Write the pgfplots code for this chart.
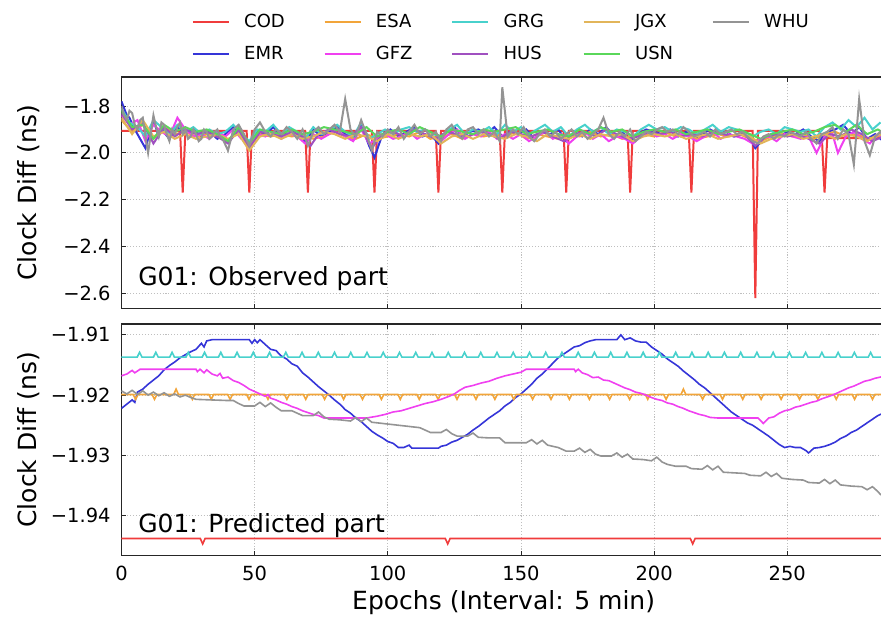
\documentclass[border=0pt]{standalone}
\usepackage{fontspec}
\setmainfont{DejaVu Sans}
\usepackage{pgfplots}
\pgfplotsset{compat=1.18}

\definecolor{cCOD}{HTML}{F03C3C}
\definecolor{cEMR}{HTML}{3535D8}
\definecolor{cESA}{HTML}{F2A53A}
\definecolor{cGFZ}{HTML}{F040F0}
\definecolor{cGRG}{HTML}{48D1CC}
\definecolor{cHUS}{HTML}{A050C0}
\definecolor{cJGX}{HTML}{E2B55A}
\definecolor{cUSN}{HTML}{5AD75A}
\definecolor{cWHU}{HTML}{949494}

\newcommand\tickfont{\fontsize{14.6}{17}\selectfont}
\newcommand\labfont{\fontsize{18.75}{22}\selectfont}
\newcommand\legfont{\fontsize{13.5}{16}\selectfont}

\pgfplotsset{
  panel/.style={
    scale only axis, width=573.2pt, height=173.5pt,
    xmin=0, xmax=287,
    xtick={0,50,100,150,200,250},
    tick align=inside, major tick length=3.5pt,
    grid=major,
    major grid style={draw=black!25, line width=0.6pt, dash pattern=on 0.8pt off 1.4pt},
    axis line style={draw=black!85, line width=0.8pt},
    tick style={draw=black!85, line width=0.6pt},
    tick label style={font=\tickfont},
    yticklabel style={inner sep=0pt, anchor=east, xshift=-8pt},
    xticklabel style={inner sep=0pt, anchor=north, yshift=-7.5pt},
    every axis y label/.style={at={(axis description cs:-0.121,0.5)}, rotate=90, anchor=center, font=\labfont},
    every axis x label/.style={at={(axis description cs:0.5,-0.2348)}, anchor=base, font=\labfont},
  },
}

\begin{document}
\begin{tikzpicture}
% ---------------- observed part ----------------
\begin{axis}[panel,
  at={(0pt,0pt)}, anchor=north west,
  ymin=-2.664, ymax=-1.676,
  ytick={-2.6,-2.4,-2.2,-2.0,-1.8},
  yticklabels={−2.6,−2.4,−2.2,−2.0,−1.8},
  xticklabels={},
  ylabel={Clock Diff (ns)},
  every axis plot/.append style={line width=1.5pt},
  legend columns=2, transpose legend,
  legend style={draw=none, fill=none, inner sep=0pt, font=\legfont,
    at={(axis description cs:0.0917,1.2745)}, anchor=north west,
    nodes={inner sep=0pt, anchor=base west},
    row sep=12.5pt,
    /tikz/every odd column/.append style={column sep=10.8pt},
    /tikz/every even column/.append style={column sep=29pt}},
  legend image code/.code={\draw[#1, line width=1.5pt] (0pt,0.36em) -- (27pt,0.36em);},
]
\addplot[cCOD] coordinates {(0,-1.906)(22,-1.906)(23,-2.17)(24,-1.906)(47,-1.906)(48,-2.17)(49,-1.906)
 (69,-1.906)(70,-2.17)(71,-1.906)(94,-1.906)(95,-2.17)(96,-1.906)(118,-1.906)(119,-2.17)(120,-1.906)
 (142,-1.906)(143,-2.17)(144,-1.906)(166,-1.906)(167,-2.17)(168,-1.906)(190,-1.906)(191,-2.17)(192,-1.906)
 (213,-1.906)(214,-2.17)(215,-1.906)(237,-1.906)(238,-2.62)(239,-1.906)(262,-1.906)(263,-1.937)(264,-2.17)(265,-1.937)(287,-1.937)};
\addplot[cEMR] coordinates {(0,-1.78)(2,-1.84)(3,-1.85)(5,-1.90)(6,-1.92)(8,-1.96)(9,-1.98)(11,-1.90)(12,-1.86)(14,-1.93)(15,-1.90)(18,-1.94)(21,-1.89)(24,-1.92)(27,-1.90)
 (30,-1.93)(33,-1.91)(36,-1.94)(39,-1.92)(42,-1.89)(45,-1.93)(48,-1.98)(51,-1.91)(54,-1.92)(57,-1.89)
 (60,-1.93)(63,-1.90)(66,-1.92)(69,-1.95)(72,-1.90)(75,-1.93)(78,-1.91)(81,-1.89)(84,-1.92)(87,-1.94)
 (90,-1.88)(93,-1.97)(95,-2.02)(98,-1.92)(101,-1.90)(104,-1.93)(107,-1.91)(110,-1.89)(113,-1.93)(116,-1.92)
 (119,-1.96)(122,-1.91)(125,-1.89)(128,-1.93)(131,-1.91)(134,-1.90)(137,-1.92)(140,-1.89)(143,-1.93)(146,-1.91)
 (149,-1.92)(152,-1.90)(155,-1.94)(158,-1.91)(161,-1.92)(164,-1.90)(167,-1.95)(170,-1.91)(173,-1.93)(176,-1.90)
 (179,-1.92)(182,-1.89)(185,-1.93)(188,-1.91)(191,-1.95)(194,-1.92)(197,-1.90)(200,-1.91)(203,-1.92)(206,-1.90)
 (209,-1.93)(212,-1.91)(215,-1.94)(218,-1.92)(221,-1.90)(224,-1.92)(227,-1.91)(230,-1.93)(233,-1.92)(236,-1.94)
 (238,-1.98)(241,-1.94)(244,-1.92)(247,-1.93)(250,-1.91)(253,-1.92)(256,-1.90)(259,-1.93)(262,-1.95)(265,-1.91)
 (268,-1.90)(271,-1.88)(274,-1.92)(277,-1.89)(280,-1.94)(283,-1.92)(286,-1.95)};
\addplot[cESA] coordinates {(0,-1.86)(4,-1.91)(8,-1.88)(12,-1.94)(16,-1.89)(20,-1.92)(24,-1.91)(28,-1.93)(32,-1.92)(36,-1.93)
 (40,-1.95)(44,-1.91)(48,-1.97)(52,-1.92)(56,-1.93)(60,-1.92)(64,-1.93)(68,-1.92)(72,-1.94)(76,-1.93)
 (80,-1.91)(84,-1.93)(88,-1.94)(92,-1.92)(96,-1.94)(100,-1.93)(104,-1.92)(108,-1.93)(112,-1.91)(116,-1.94)
 (120,-1.93)(124,-1.92)(128,-1.94)(132,-1.92)(136,-1.93)(140,-1.92)(144,-1.93)(148,-1.91)(152,-1.94)(156,-1.92)
 (160,-1.93)(164,-1.94)(168,-1.92)(172,-1.93)(176,-1.91)(180,-1.93)(184,-1.92)(188,-1.94)(192,-1.93)(196,-1.92)
 (200,-1.93)(204,-1.91)(208,-1.93)(212,-1.92)(216,-1.94)(220,-1.93)(224,-1.92)(228,-1.93)(232,-1.92)(236,-1.94)
 (240,-1.95)(244,-1.93)(248,-1.92)(252,-1.93)(256,-1.92)(260,-1.94)(264,-1.92)(268,-1.91)(272,-1.93)(276,-1.92)
 (280,-1.94)(284,-1.93)(287,-1.92)};
\addplot[cGFZ] coordinates {(0,-1.84)(3,-1.88)(6,-1.86)(9,-1.95)(12,-1.88)(15,-1.91)(18,-1.93)(21,-1.85)(24,-1.90)(27,-1.93)
 (30,-1.92)(33,-1.94)(36,-1.91)(39,-1.93)(42,-1.90)(45,-1.94)(48,-1.96)(51,-1.92)(54,-1.93)(57,-1.91)
 (60,-1.94)(63,-1.92)(66,-1.93)(69,-1.96)(72,-1.92)(75,-1.94)(78,-1.92)(81,-1.90)(84,-1.93)(87,-1.95)
 (90,-1.90)(93,-1.96)(96,-1.94)(99,-1.92)(102,-1.94)(105,-1.93)(108,-1.91)(111,-1.94)(114,-1.92)(117,-1.93)
 (120,-1.95)(123,-1.92)(126,-1.90)(129,-1.94)(132,-1.92)(135,-1.93)(138,-1.91)(141,-1.94)(144,-1.92)(147,-1.94)
 (150,-1.92)(153,-1.95)(156,-1.93)(159,-1.91)(162,-1.94)(165,-1.92)(168,-1.96)(171,-1.93)(174,-1.91)(177,-1.94)
 (180,-1.92)(183,-1.95)(186,-1.93)(189,-1.94)(192,-1.96)(195,-1.93)(198,-1.91)(201,-1.93)(204,-1.92)(207,-1.94)
 (210,-1.92)(213,-1.93)(216,-1.95)(219,-1.93)(222,-1.91)(225,-1.94)(228,-1.92)(231,-1.93)(234,-1.94)(237,-1.96)
 (240,-1.94)(243,-1.93)(246,-1.95)(249,-1.92)(252,-1.93)(255,-1.94)(258,-1.93)(261,-2.00)(264,-1.93)(267,-1.92)
 (269,-2.00)(272,-1.93)(275,-1.91)(278,-1.94)(281,-1.96)(284,-1.92)(287,-1.94)};
\addplot[cGRG] coordinates {(0,-1.81)(3,-1.87)(6,-1.89)(9,-1.93)(12,-1.86)(15,-1.89)(18,-1.92)(21,-1.88)(24,-1.91)(27,-1.89)
 (30,-1.92)(33,-1.90)(36,-1.92)(39,-1.91)(42,-1.88)(45,-1.92)(48,-1.95)(51,-1.90)(54,-1.91)(57,-1.88)
 (60,-1.92)(63,-1.89)(66,-1.91)(69,-1.94)(72,-1.89)(75,-1.92)(78,-1.90)(81,-1.88)(84,-1.91)(87,-1.93)
 (90,-1.87)(93,-1.94)(96,-1.92)(99,-1.90)(102,-1.92)(105,-1.90)(108,-1.89)(111,-1.91)(114,-1.90)(117,-1.92)
 (120,-1.93)(123,-1.90)(126,-1.88)(129,-1.92)(132,-1.90)(135,-1.91)(138,-1.89)(141,-1.92)(144,-1.88)(147,-1.91)
 (150,-1.89)(153,-1.92)(156,-1.90)(159,-1.88)(162,-1.91)(165,-1.89)(168,-1.93)(171,-1.90)(174,-1.88)(177,-1.91)
 (180,-1.89)(183,-1.92)(186,-1.90)(189,-1.91)(192,-1.93)(195,-1.90)(198,-1.88)(201,-1.90)(204,-1.89)(207,-1.91)
 (210,-1.89)(213,-1.90)(216,-1.92)(219,-1.90)(222,-1.88)(225,-1.91)(228,-1.89)(231,-1.90)(234,-1.91)(237,-1.93)
 (240,-1.91)(243,-1.90)(246,-1.92)(249,-1.89)(252,-1.90)(255,-1.91)(258,-1.90)(261,-1.93)(264,-1.89)(267,-1.87)
 (270,-1.90)(273,-1.86)(276,-1.89)(279,-1.85)(282,-1.90)(285,-1.87)};
\addplot[cHUS] coordinates {(0,-1.83)(4,-1.90)(8,-1.87)(12,-1.96)(16,-1.89)(20,-1.93)(24,-1.90)(28,-1.92)(32,-1.91)(36,-1.93)
 (40,-1.96)(44,-1.90)(48,-1.98)(52,-1.91)(56,-1.92)(60,-1.93)(64,-1.91)(68,-1.93)(71,-1.97)(74,-1.92)
 (78,-1.90)(82,-1.92)(86,-1.93)(90,-1.89)(94,-1.98)(98,-1.92)(102,-1.91)(106,-1.93)(110,-1.90)(114,-1.92)
 (118,-1.94)(122,-1.91)(126,-1.92)(130,-1.93)(134,-1.91)(138,-1.92)(142,-1.94)(146,-1.91)(150,-1.92)(154,-1.93)
 (158,-1.91)(162,-1.93)(166,-1.95)(170,-1.92)(174,-1.91)(178,-1.93)(182,-1.90)(186,-1.92)(190,-1.94)(194,-1.93)
 (198,-1.91)(202,-1.92)(206,-1.91)(210,-1.93)(214,-1.92)(218,-1.93)(222,-1.91)(226,-1.92)(230,-1.93)(234,-1.92)
 (238,-1.97)(242,-1.93)(246,-1.92)(250,-1.93)(254,-1.92)(258,-1.94)(262,-1.96)(266,-1.92)(270,-1.93)(274,-1.90)
 (278,-1.92)(282,-1.95)(286,-1.93)};
\addplot[cJGX] coordinates {(0,-1.85)(4,-1.92)(8,-1.86)(12,-1.93)(16,-1.91)(20,-1.94)(24,-1.92)(28,-1.94)(32,-1.93)(36,-1.92)
 (40,-1.94)(44,-1.92)(48,-1.99)(52,-1.93)(56,-1.92)(60,-1.94)(64,-1.92)(68,-1.94)(72,-1.93)(76,-1.91)
 (80,-1.92)(84,-1.94)(88,-1.92)(92,-1.93)(96,-1.95)(100,-1.92)(104,-1.94)(108,-1.92)(112,-1.93)(116,-1.92)
 (120,-1.96)(124,-1.93)(128,-1.92)(132,-1.94)(136,-1.92)(140,-1.93)(144,-1.94)(148,-1.92)(152,-1.93)(156,-1.95)
 (160,-1.92)(164,-1.93)(168,-1.94)(172,-1.92)(176,-1.94)(180,-1.92)(184,-1.93)(188,-1.92)(192,-1.95)(196,-1.93)
 (200,-1.92)(204,-1.93)(208,-1.92)(212,-1.94)(216,-1.93)(220,-1.92)(224,-1.94)(228,-1.93)(232,-1.92)(236,-1.93)
 (240,-1.96)(244,-1.94)(248,-1.93)(252,-1.92)(256,-1.94)(260,-1.93)(264,-1.92)(268,-1.94)(272,-1.92)(276,-1.93)
 (280,-1.95)(284,-1.92)(287,-1.93)};
\addplot[cUSN] coordinates {(0,-1.82)(4,-1.89)(8,-1.88)(12,-1.94)(16,-1.88)(20,-1.91)(24,-1.89)(28,-1.91)(32,-1.90)(36,-1.92)
 (40,-1.95)(44,-1.89)(48,-1.96)(52,-1.90)(56,-1.91)(60,-1.92)(64,-1.90)(68,-1.92)(72,-1.91)(76,-1.89)
 (80,-1.90)(84,-1.91)(88,-1.92)(92,-1.89)(96,-1.93)(100,-1.91)(104,-1.90)(108,-1.92)(112,-1.89)(116,-1.91)
 (120,-1.93)(124,-1.90)(128,-1.91)(132,-1.92)(136,-1.90)(140,-1.91)(144,-1.90)(148,-1.89)(152,-1.92)(156,-1.91)
 (160,-1.90)(164,-1.92)(168,-1.93)(172,-1.90)(176,-1.92)(180,-1.89)(184,-1.91)(188,-1.90)(192,-1.93)(196,-1.91)
 (200,-1.90)(204,-1.91)(208,-1.90)(212,-1.92)(216,-1.91)(220,-1.90)(224,-1.92)(228,-1.91)(232,-1.90)(236,-1.92)
 (240,-1.94)(244,-1.92)(248,-1.91)(252,-1.90)(256,-1.92)(260,-1.91)(264,-1.89)(268,-1.88)(272,-1.91)(276,-1.88)
 (280,-1.92)(284,-1.90)(287,-1.92)};
\addplot[cWHU] coordinates {(0,-1.80)(1,-1.84)(2,-1.86)(3,-1.82)(4,-1.83)(5,-1.88)(6,-1.90)(7,-1.86)(8,-1.85)(9,-1.93)(10,-2.00)(11,-1.92)(12,-1.84)(13,-1.89)(14,-1.93)(15,-1.87)(16,-1.88)(17,-1.92)(18,-1.95)
 (19,-1.90)(20,-1.92)(21,-1.89)(22,-1.87)(23,-1.92)(24,-1.90)(25,-1.94)(26,-1.93)(27,-1.90)(28,-1.92)(29,-1.95)(30,-1.94)(31,-1.90)(32,-1.91)(33,-1.94)(34,-1.93)(35,-1.91)(36,-1.90)(37,-1.93)(38,-1.94)
 (40,-1.99)(42,-1.90)(44,-1.88)(46,-1.92)(48,-1.97)(50,-1.90)(52,-1.87)(54,-1.91)(56,-1.93)(58,-1.90)
 (60,-1.92)(62,-1.89)(64,-1.91)(66,-1.94)(68,-1.90)(70,-1.97)(72,-1.91)(74,-1.89)(76,-1.92)(78,-1.90)
 (80,-1.88)(82,-1.91)(84,-1.77)(86,-1.90)(88,-1.93)(90,-1.86)(92,-1.92)(94,-1.99)(96,-1.91)(98,-1.93)
 (100,-1.90)(102,-1.92)(104,-1.89)(106,-1.94)(108,-1.91)(110,-1.88)(112,-1.92)(114,-1.90)(116,-1.93)(118,-1.91)
 (120,-1.95)(122,-1.90)(124,-1.88)(126,-1.92)(128,-1.94)(130,-1.90)(132,-1.89)(134,-1.92)(136,-1.90)(138,-1.93)
 (140,-1.91)(142,-1.95)(143,-1.72)(145,-1.93)(147,-1.90)(149,-1.92)(151,-1.89)(153,-1.93)(155,-1.95)(157,-1.92)
 (159,-1.90)(161,-1.93)(163,-1.91)(165,-1.94)(167,-1.92)(169,-1.90)(171,-1.93)(173,-1.91)(175,-1.94)(177,-1.92)
 (179,-1.90)(181,-1.85)(183,-1.92)(185,-1.94)(187,-1.91)(189,-1.93)(191,-1.90)(193,-1.95)(195,-1.93)(197,-1.91)
 (199,-1.92)(201,-1.90)(203,-1.89)(205,-1.91)(207,-1.90)(209,-1.92)(211,-1.89)(213,-1.91)(215,-1.93)(217,-1.92)
 (219,-1.91)(221,-1.93)(223,-1.90)(225,-1.92)(227,-1.91)(229,-1.90)(231,-1.92)(233,-1.91)(235,-1.93)(237,-1.95)
 (239,-1.96)(241,-1.93)(243,-1.92)(245,-1.94)(247,-1.92)(249,-1.93)(251,-1.91)(253,-1.92)(255,-1.93)(257,-1.91)
 (259,-1.94)(261,-1.96)(263,-1.92)(265,-1.91)(267,-1.89)(269,-1.94)(271,-1.90)(273,-1.92)(275,-2.05)(277,-1.77)
 (279,-1.95)(281,-2.01)(283,-1.93)(285,-1.91)(287,-1.95)};
\legend{COD,EMR,ESA,GFZ,GRG,HUS,JGX,USN,WHU}
\node[anchor=base west, inner sep=0pt, font=\labfont] at (axis cs:6.2,-2.5645) {G01: Observed part};
\end{axis}

% ---------------- predicted part ----------------
\begin{axis}[panel,
  at={(0pt,-185.25pt)}, anchor=north west,
  ymin=-1.9466, ymax=-1.9082,
  ytick={-1.94,-1.93,-1.92,-1.91},
  yticklabels={−1.94,−1.93,−1.92,−1.91},
  xticklabels={0,50,100,150,200,250},
  ylabel={Clock Diff (ns)},
  xlabel={Epochs (Interval: 5 min)},
  every axis plot/.append style={line width=1.2pt},
]
\addplot[cCOD] coordinates {(0,-1.9438)(29.6,-1.9438)(30.5,-1.9447)(31.4,-1.9438)(121.6,-1.9438)(122.5,-1.9447)(123.4,-1.9438)
 (213.6,-1.9438)(214.5,-1.9447)(215.4,-1.9438)(287,-1.9438)};
\addplot[cEMR] coordinates {(0,-1.9222)(2,-1.9215)(4,-1.9208)(5,-1.9212)(6,-1.9195)(8,-1.9190)(10,-1.9182)(12,-1.9175)(14,-1.9168)
 (16,-1.9158)(18,-1.9151)(20,-1.9145)(22,-1.9138)(24,-1.9133)(26,-1.9128)(28,-1.9124)(30,-1.9114)(31,-1.9120)(32,-1.9110)
 (34,-1.9108)(48,-1.9108)(49,-1.9114)(50,-1.9108)(51,-1.9113)(52,-1.9108)(54,-1.9116)(56,-1.9124)(58,-1.9126)(60,-1.9135)
 (62,-1.9140)(64,-1.9148)(66,-1.9152)(68,-1.9163)(70,-1.9170)(72,-1.9178)(74,-1.9186)(76,-1.9193)(78,-1.9200)(80,-1.9208)
 (82,-1.9215)(84,-1.9224)(86,-1.9230)(88,-1.9238)(90,-1.9244)(92,-1.9252)(94,-1.9260)(96,-1.9266)(98,-1.9271)(100,-1.9277)
 (102,-1.9280)(104,-1.9287)(106,-1.9287)(108,-1.9283)(109,-1.9288)(119,-1.9288)(120,-1.9285)(122,-1.9283)(124,-1.9278)
 (126,-1.9275)(128,-1.9270)(130,-1.9265)(132,-1.9258)(134,-1.9252)(136,-1.9245)(138,-1.9238)(140,-1.9232)(142,-1.9226)
 (144,-1.9218)(146,-1.9212)(148,-1.9204)(150,-1.9198)(152,-1.9190)(154,-1.9182)(156,-1.9172)(158,-1.9165)(160,-1.9156)
 (162,-1.9147)(164,-1.9138)(166,-1.9132)(168,-1.9126)(170,-1.9120)(172,-1.9118)(174,-1.9113)(176,-1.9110)(178,-1.9108)
 (186,-1.9108)(187.5,-1.9100)(189,-1.9108)(191,-1.9105)(193,-1.9110)(195,-1.9112)(197,-1.9112)(199,-1.9120)(201,-1.9126)
 (203,-1.9132)(205,-1.9140)(207,-1.9146)(209,-1.9152)(211,-1.9160)(213,-1.9167)(215,-1.9174)(217,-1.9182)(219,-1.9188)
 (221,-1.9196)(223,-1.9204)(225,-1.9212)(227,-1.9220)(229,-1.9228)(231,-1.9234)(233,-1.9240)(235,-1.9246)(237,-1.9250)
 (239,-1.9256)(241,-1.9262)(243,-1.9268)(245,-1.9275)(247,-1.9282)(249,-1.9287)(251,-1.9285)(253,-1.9287)(255,-1.9287)
 (257,-1.9292)(258,-1.9296)(260,-1.9288)(262,-1.9287)(264,-1.9285)(266,-1.9282)(268,-1.9278)(270,-1.9272)(272,-1.9268)
 (274,-1.9262)(276,-1.9258)(278,-1.9252)(280,-1.9246)(282,-1.9240)(284,-1.9234)(286,-1.9230)};
\addplot[cJGX] coordinates {(0,-1.9199)(287,-1.9199)};
\addplot[cESA] coordinates {(0,-1.9199)(4.4,-1.9199)(5.3,-1.9207)(6.2,-1.9199)(11.5,-1.9199)(12.4,-1.9207)(13.3,-1.9199)
 (19.6,-1.9199)(20.5,-1.9190)(21.4,-1.9199)(25.7,-1.9199)(26.6,-1.9207)(27.5,-1.9199)(32.8,-1.9199)(33.7,-1.9207)(34.6,-1.9199)
 (39.9,-1.9199)(40.8,-1.9207)(41.7,-1.9199)(47.0,-1.9199)(47.9,-1.9207)(48.8,-1.9199)(54.1,-1.9199)(55.0,-1.9207)(55.9,-1.9199)
 (61.2,-1.9199)(62.1,-1.9207)(63.0,-1.9199)(68.3,-1.9199)(69.2,-1.9207)(70.1,-1.9199)(75.4,-1.9199)(76.3,-1.9207)(77.2,-1.9199)
 (82.5,-1.9199)(83.4,-1.9207)(84.3,-1.9199)(89.6,-1.9199)(90.5,-1.9207)(91.4,-1.9199)(96.7,-1.9199)(97.6,-1.9207)(98.5,-1.9199)
 (103.8,-1.9199)(104.7,-1.9207)(105.6,-1.9199)(110.9,-1.9199)(111.8,-1.9207)(112.7,-1.9199)(118.0,-1.9199)(118.9,-1.9207)(119.8,-1.9199)
 (125.1,-1.9199)(126.0,-1.9207)(126.9,-1.9199)(132.2,-1.9199)(133.1,-1.9207)(134.0,-1.9199)(139.3,-1.9199)(140.2,-1.9207)(141.1,-1.9199)
 (146.4,-1.9199)(147.3,-1.9207)(148.2,-1.9199)(153.5,-1.9199)(154.4,-1.9207)(155.3,-1.9199)(160.4,-1.9199)(161.3,-1.9207)(162.2,-1.9199)
 (167.3,-1.9199)(168.2,-1.9207)(169.1,-1.9199)(174.8,-1.9199)(175.7,-1.9207)(176.6,-1.9199)(182.4,-1.9199)(183.3,-1.9207)(184.2,-1.9199)
 (189.9,-1.9199)(190.8,-1.9207)(191.7,-1.9199)(196.7,-1.9199)(197.6,-1.9207)(198.5,-1.9199)(203.6,-1.9199)(204.5,-1.9207)(205.4,-1.9199)
 (210.1,-1.9199)(211.0,-1.9190)(211.9,-1.9199)(217.3,-1.9199)(218.2,-1.9207)(219.1,-1.9199)(224.8,-1.9199)(225.7,-1.9207)(226.6,-1.9199)
 (232.4,-1.9199)(233.3,-1.9207)(234.2,-1.9199)(239.3,-1.9199)(240.2,-1.9207)(241.1,-1.9199)(246.8,-1.9199)(247.7,-1.9207)(248.6,-1.9199)
 (253.7,-1.9199)(254.6,-1.9207)(255.5,-1.9199)(260.6,-1.9199)(261.5,-1.9207)(262.4,-1.9199)(267.5,-1.9199)(268.4,-1.9207)(269.3,-1.9199)
 (274.4,-1.9199)(275.3,-1.9207)(276.2,-1.9199)(281.1,-1.9199)(282.0,-1.9207)(282.9,-1.9199)(287,-1.9199)};
\addplot[cGFZ] coordinates {(0,-1.9168)(2,-1.9165)(4,-1.9159)(5,-1.9163)(7,-1.9157)(28,-1.9157)(28.5,-1.9161)(29.5,-1.9157)(31,-1.9163)
 (32,-1.9158)(34,-1.9165)(36,-1.9168)(37,-1.9164)(38,-1.9172)(40,-1.9170)(42,-1.9176)(44,-1.9179)(46,-1.9184)(48,-1.9190)
 (50,-1.9194)(52,-1.9198)(54,-1.9202)(55,-1.9199)(56,-1.9205)(58,-1.9208)(60,-1.9212)(62,-1.9215)(64,-1.9219)(66,-1.9222)
 (68,-1.9226)(70,-1.9229)(72,-1.9232)(74,-1.9234)(76,-1.9238)(92,-1.9238)(96,-1.9235)(99,-1.9232)(102,-1.9228)(105,-1.9226)
 (108,-1.9222)(111,-1.9218)(114,-1.9214)(117,-1.9211)(120,-1.9207)(123,-1.9202)(125,-1.9198)(127,-1.9192)(129,-1.9187)
 (132,-1.9184)(135,-1.9180)(138,-1.9177)(141,-1.9172)(144,-1.9168)(147,-1.9165)(150,-1.9162)(152,-1.9157)(170,-1.9157)
 (170.5,-1.9161)(171.5,-1.9157)(173,-1.9163)(175,-1.9166)(177,-1.9171)(179,-1.9170)(181,-1.9175)(183,-1.9176)(185,-1.9180)
 (187,-1.9184)(189,-1.9188)(191,-1.9191)(193,-1.9195)(195,-1.9197)(197,-1.9200)(199,-1.9204)(201,-1.9207)(203,-1.9209)
 (205,-1.9213)(207,-1.9215)(209,-1.9219)(211,-1.9222)(213,-1.9226)(215,-1.9229)(217,-1.9232)(219,-1.9234)(221,-1.9237)
 (224,-1.9238)(239,-1.9238)(241,-1.9247)(243,-1.9238)(245,-1.9236)(247,-1.9230)(249,-1.9226)(251,-1.9224)(253,-1.9220)
 (255,-1.9218)(257,-1.9215)(259,-1.9212)(261,-1.9210)(263,-1.9206)(265,-1.9203)(267,-1.9200)(269,-1.9196)(271,-1.9192)
 (273,-1.9188)(275,-1.9185)(277,-1.9181)(279,-1.9177)(281,-1.9175)(283,-1.9172)(285,-1.9170)(287,-1.9168)};
\addplot[cGRG] coordinates {(0,-1.9137)(5.9,-1.9137)(6.8,-1.9129)(7.7,-1.9137)(12.0,-1.9137)(12.9,-1.9129)(13.8,-1.9137)
 (18.1,-1.9137)(19.0,-1.9129)(19.9,-1.9137)(24.2,-1.9137)(25.1,-1.9129)(26.0,-1.9137)(30.3,-1.9137)(31.2,-1.9129)(32.1,-1.9137)
 (36.4,-1.9137)(37.3,-1.9129)(38.2,-1.9137)(42.5,-1.9137)(43.4,-1.9129)(44.3,-1.9137)(48.6,-1.9137)(49.5,-1.9129)(50.4,-1.9137)
 (54.7,-1.9137)(55.6,-1.9129)(56.5,-1.9137)(60.8,-1.9137)(61.7,-1.9129)(62.6,-1.9137)(66.9,-1.9137)(67.8,-1.9129)(68.7,-1.9137)
 (73.0,-1.9137)(73.9,-1.9129)(74.8,-1.9137)(79.1,-1.9137)(80.0,-1.9129)(80.9,-1.9137)(85.2,-1.9137)(86.1,-1.9129)(87.0,-1.9137)
 (91.3,-1.9137)(92.2,-1.9129)(93.1,-1.9137)(97.4,-1.9137)(98.3,-1.9129)(99.2,-1.9137)(103.5,-1.9137)(104.4,-1.9129)(105.3,-1.9137)
 (109.6,-1.9137)(110.5,-1.9129)(111.4,-1.9137)(115.7,-1.9137)(116.6,-1.9129)(117.5,-1.9137)(121.8,-1.9137)(122.7,-1.9129)(123.6,-1.9137)
 (127.9,-1.9137)(128.8,-1.9129)(129.7,-1.9137)(134.0,-1.9137)(134.9,-1.9129)(135.8,-1.9137)(140.1,-1.9137)(141.0,-1.9129)(141.9,-1.9137)
 (146.2,-1.9137)(147.1,-1.9129)(148.0,-1.9137)(152.3,-1.9137)(153.2,-1.9129)(154.1,-1.9137)(158.4,-1.9137)(159.3,-1.9129)(160.2,-1.9137)
 (164.5,-1.9137)(165.4,-1.9129)(166.3,-1.9137)(170.6,-1.9137)(171.5,-1.9129)(172.4,-1.9137)(176.7,-1.9137)(177.6,-1.9129)(178.5,-1.9137)
 (182.8,-1.9137)(183.7,-1.9129)(184.6,-1.9137)(188.9,-1.9137)(189.8,-1.9129)(190.7,-1.9137)(195.0,-1.9137)(195.9,-1.9129)(196.8,-1.9137)
 (201.1,-1.9137)(202.0,-1.9129)(202.9,-1.9137)(207.2,-1.9137)(208.1,-1.9129)(209.0,-1.9137)(213.3,-1.9137)(214.2,-1.9129)(215.1,-1.9137)
 (219.4,-1.9137)(220.3,-1.9129)(221.2,-1.9137)(225.5,-1.9137)(226.4,-1.9129)(227.3,-1.9137)(231.6,-1.9137)(232.5,-1.9129)(233.4,-1.9137)
 (237.7,-1.9137)(238.6,-1.9129)(239.5,-1.9137)(243.8,-1.9137)(244.7,-1.9129)(245.6,-1.9137)(249.9,-1.9137)(250.8,-1.9129)(251.7,-1.9137)
 (256.0,-1.9137)(256.9,-1.9129)(257.8,-1.9137)(262.1,-1.9137)(263.0,-1.9129)(263.9,-1.9137)(268.2,-1.9137)(269.1,-1.9129)(270.0,-1.9137)
 (274.3,-1.9137)(275.2,-1.9129)(276.1,-1.9137)(280.4,-1.9137)(281.3,-1.9129)(282.2,-1.9137)(287,-1.9137)};
\addplot[cWHU] coordinates {(0,-1.9193)(2,-1.9198)(4,-1.9192)(6,-1.9199)(8,-1.9193)(10,-1.9200)(12,-1.9195)(14,-1.9201)(16,-1.9196)
 (18,-1.9202)(20,-1.9198)(22,-1.9203)(24,-1.9200)(26,-1.9204)(28,-1.9207)(40,-1.9209)(42,-1.9209)(44,-1.9214)(46,-1.9218)
 (50,-1.9218)(52,-1.9212)(54,-1.9219)(56,-1.9213)(58,-1.9220)(60,-1.9226)(64,-1.9226)(66,-1.9230)(68,-1.9234)(72,-1.9234)
 (74,-1.9228)(76,-1.9236)(78,-1.9240)(82,-1.9241)(86,-1.9243)(88,-1.9237)(90,-1.9244)(92,-1.9238)(94,-1.9245)(98,-1.9247)
 (102,-1.9249)(106,-1.9251)(110,-1.9253)(112,-1.9254)(114,-1.9258)(116,-1.9262)(120,-1.9262)(122,-1.9257)(124,-1.9264)
 (126,-1.9268)(130,-1.9268)(132,-1.9263)(134,-1.9270)(138,-1.9271)(142,-1.9271)(144,-1.9279)(152,-1.9279)(154,-1.9274)
 (156,-1.9281)(158,-1.9275)(160,-1.9283)(164,-1.9287)(167,-1.9293)(170,-1.9293)(172,-1.9288)(174,-1.9295)(176,-1.9290)
 (178,-1.9298)(180,-1.9301)(184,-1.9301)(186,-1.9296)(188,-1.9303)(190,-1.9298)(192,-1.9306)(196,-1.9307)(199,-1.9309)
 (201,-1.9303)(203,-1.9311)(205,-1.9315)(208,-1.9318)(212,-1.9318)(214,-1.9322)(218,-1.9323)(220,-1.9317)(222,-1.9324)
 (224,-1.9318)(226,-1.9328)(230,-1.9329)(234,-1.9330)(236,-1.9333)(240,-1.9334)(242,-1.9328)(244,-1.9335)(246,-1.9330)
 (248,-1.9338)(252,-1.9340)(256,-1.9341)(258,-1.9345)(262,-1.9346)(264,-1.9340)(266,-1.9347)(268,-1.9341)(270,-1.9349)
 (274,-1.9351)(278,-1.9352)(280,-1.9357)(282,-1.9352)(284,-1.9360)(285,-1.9365)(287,-1.9360)};
\node[anchor=base west, inner sep=0pt, font=\labfont] at (axis cs:6.2,-1.94285) {G01: Predicted part};
\end{axis}

\pgfresetboundingbox
\path[use as bounding box] (-91.1pt,57.75pt) rectangle (569.6pt,-405pt);
\end{tikzpicture}
\end{document}
